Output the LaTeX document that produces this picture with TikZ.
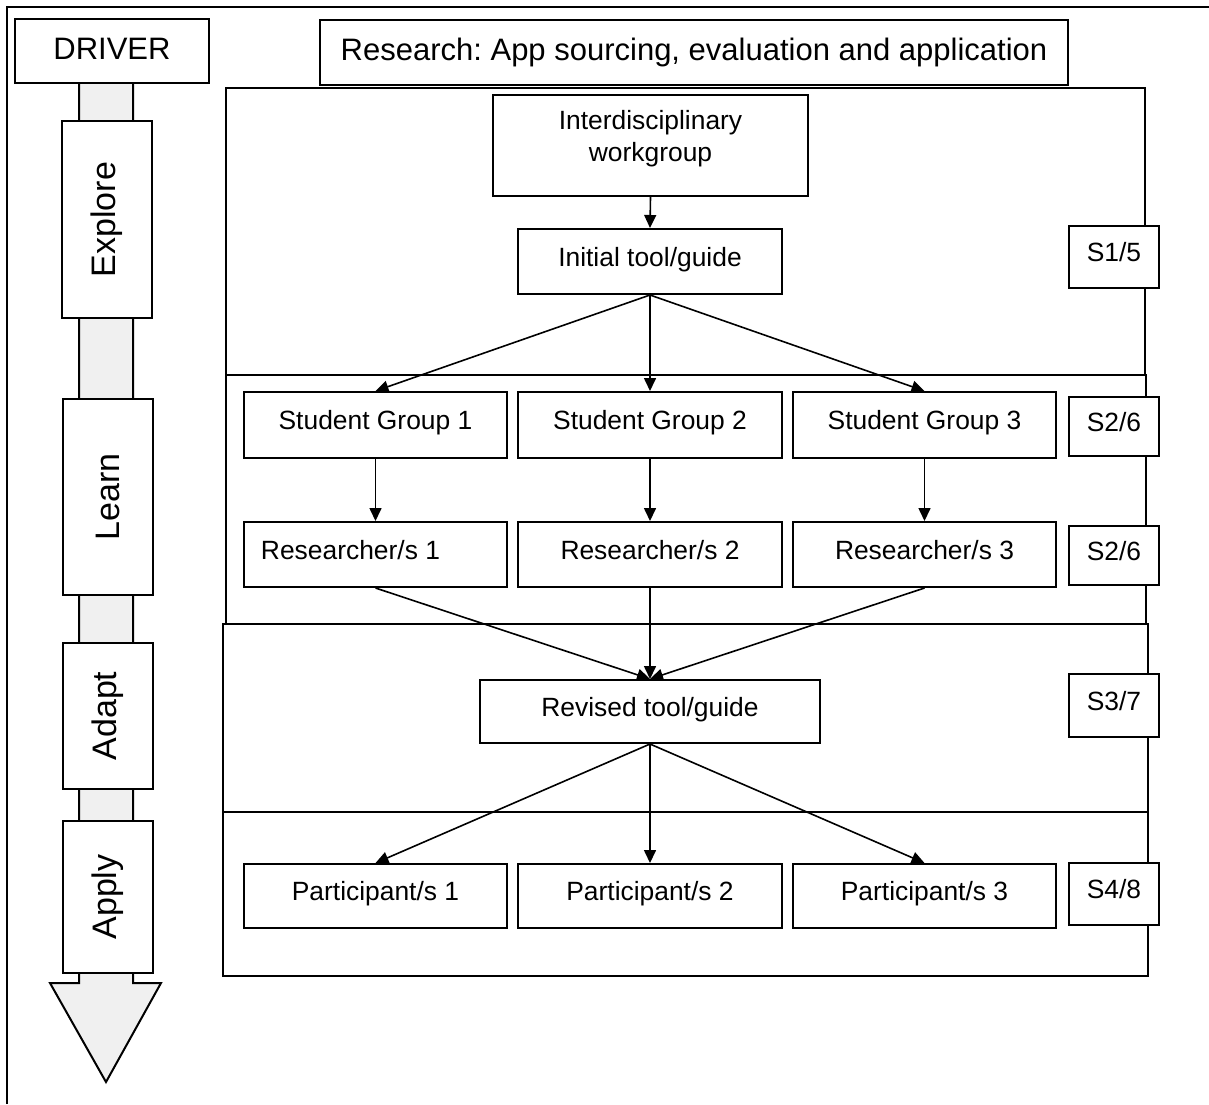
\documentclass[tikz,border=0pt]{standalone}
\usepackage{fontspec}
\setmainfont{Liberation Sans}
\usepackage{graphicx}
\usetikzlibrary{arrows.meta}
\definecolor{shaft}{HTML}{F0F0F0}
\tikzset{
  box/.style={draw, line width=2pt, fill=white, inner sep=0pt,
    font=\fontsize{26.4}{32}\selectfont, text height=17pt, text depth=8pt},
  sidebox/.style={draw, line width=2pt, fill=white, inner sep=0pt,
    minimum width=90pt, font=\fontsize{34}{40}\selectfont},
  sbox/.style={box, minimum width=90pt},
  wide/.style={box, minimum width=264pt, minimum height=65pt},
  section/.style={draw, line width=2pt},
  arr/.style={line width=1.6pt, -{Triangle[length=13pt,width=12pt]}},
}
\begin{document}
\frenchspacing
\begin{tikzpicture}[x=1pt,y=-1pt]
\useasboundingbox (0,0) rectangle (1209,1104);
% outer frame
\draw[line width=1.5pt] (7,1104) -- (7,7) -- (1209,7);
% driver shaft and arrowhead
\draw[line width=2pt, fill=shaft, line join=miter]
  (79,83) -- (79,983) -- (50,983) -- (106,1082) -- (161,983) -- (133,983) -- (133,83);
\node[box, font=\fontsize{31}{36}\selectfont, text height=22pt, text depth=6pt,
  minimum width=194pt, minimum height=64pt] (drv) at (112,51) {DRIVER};
\node[sidebox, minimum height=197pt] (explore) at (107,219.5) {\rotatebox{90}{Explore}};
\node[sidebox, minimum height=196pt] (learn) at (107.5,497) {\rotatebox{90}{Learn}};
\node[sidebox, minimum height=146pt] (adapt) at (107.5,716) {\rotatebox{90}{Adapt}};
\node[sidebox, minimum height=152pt] (apply) at (107.5,897) {\rotatebox{90}{Apply}};
% sections
\draw[section] (226,88) rectangle (1145,375);
\draw[section] (226,375) rectangle (1146,624);
\draw[section] (223,624) rectangle (1148,812);
\draw[section] (223,812) rectangle (1148,976);
% title
\node[box, font=\fontsize{31}{36}\selectfont, text height=22pt, text depth=7pt,
  minimum width=748pt, minimum height=65pt] (title) at (694,52.5)
  {Research: App sourcing, evaluation and application};
% main nodes
\node[box, minimum width=315pt, minimum height=101pt] (iw) at (650.5,145.5) {};
\node[font=\fontsize{26.4}{32}\selectfont, align=center, inner sep=0pt] (iwt) at (650.5,139)
  {Interdisciplinary\\workgroup};
\node[wide] (init) at (650,261.5) {Initial tool/guide};
\node[wide, minimum width=263pt, minimum height=66pt] (sg1) at (375.5,425) {Student Group 1};
\node[wide, minimum height=66pt] (sg2) at (650,425) {Student Group 2};
\node[wide, minimum width=263pt, minimum height=66pt] (sg3) at (924.5,425) {Student Group 3};
\node[wide, minimum width=263pt] (r1) at (375.5,554.5) {\hspace*{-25pt}Researcher/s 1\hspace*{25pt}};
\node[wide] (r2) at (650,554.5) {Researcher/s 2};
\node[wide, minimum width=263pt] (r3) at (924.5,554.5) {Researcher/s 3};
\node[box, minimum width=340pt, minimum height=63pt] (rev) at (650,711.5) {Revised tool/guide};
\node[wide, minimum width=263pt, minimum height=64pt] (p1) at (375.5,896) {Participant/s 1};
\node[wide, minimum height=64pt] (p2) at (650,896) {Participant/s 2};
\node[wide, minimum width=263pt, minimum height=64pt] (p3) at (924.5,896) {Participant/s 3};
% stage boxes
\node[sbox, minimum height=62pt] (s1) at (1114,257) {S1/5};
\node[sbox, minimum height=59pt] (s2a) at (1114,426.5) {S2/6};
\node[sbox, minimum height=59pt] (s2b) at (1114,555.5) {S2/6};
\node[sbox, minimum height=63pt] (s3) at (1114,705.5) {S3/7};
\node[sbox, minimum height=62pt] (s4) at (1114,894) {S4/8};
% connectors
\draw[arr] (iw.south) -- (init.north);
\draw[arr] (init.south) -- (sg1.north);
\draw[arr] (init.south) -- (sg2.north);
\draw[arr] (init.south) -- (sg3.north);
\draw[arr] (sg1.south) -- (r1.north);
\draw[arr] (sg2.south) -- (r2.north);
\draw[arr] (sg3.south) -- (r3.north);
\draw[arr] (r1.south) -- (rev.north);
\draw[arr] (r2.south) -- (rev.north);
\draw[arr] (r3.south) -- (rev.north);
\draw[arr] (rev.south) -- (p1.north);
\draw[arr] (rev.south) -- (p2.north);
\draw[arr] (rev.south) -- (p3.north);
\end{tikzpicture}
\end{document}
